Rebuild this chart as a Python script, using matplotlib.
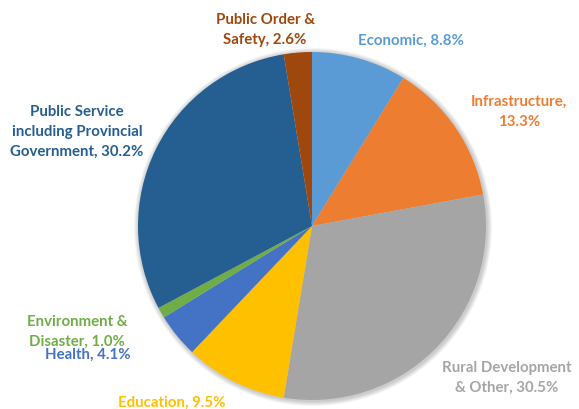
import matplotlib.pyplot as plt
from matplotlib.patches import Circle

labels = ["Economic", "Infrastructure", "Rural Development\n& Other", "Education",
          "Health", "Environment &\nDisaster", "Public Service\nincluding Provincial\nGovernment",
          "Public Order &\nSafety"]
shares = [8.8, 13.3, 30.5, 9.5, 4.1, 1.0, 30.2, 2.6]
colors = ["#5B9BD5", "#ED7D31", "#A5A5A5", "#FFC000", "#4472C4", "#70AD47", "#255E91", "#9E480E"]
# separator between name and value (Infrastructure wraps)
seps = [", ", ",\n", ", ", ", ", ", ", ", ", ", ", ", "]

# label centres in pixel coords (x, y from top)
label_pos = [(411, 41), (519, 112), (507, 378), (172, 403),
             (88, 355), (77, 332), (77, 132), (265, 30)]

W, H = 579, 410
fig = plt.figure(figsize=(W / 100, H / 100), dpi=100)
ax = fig.add_axes([0, 0, 1, 1])

cx, cy, r = 312, H - 227, 174

# soft shadow behind the pie
for i in range(6):
    ax.add_patch(Circle((cx + 1, cy - 1), r + 1 + i * 0.8, color="black",
                        alpha=0.035, lw=0, zorder=0))

ax.pie(shares, colors=colors, startangle=90, counterclock=False,
       center=(cx, cy), radius=r, frame=True,
       wedgeprops=dict(linewidth=0))
ax.set_xlim(0, W)
ax.set_ylim(0, H)
ax.set_aspect("equal")
ax.axis("off")

for lab, val, col, sep, (px, py) in zip(labels, shares, colors, seps, label_pos):
    ax.text(px, H - py, f"{lab}{sep}{val:.1f}%", color=col, fontsize=10.8,
            fontweight="bold", family="Lato", ha="center", va="center",
            linespacing=1.55)

fig.savefig("out.png", dpi=100)
